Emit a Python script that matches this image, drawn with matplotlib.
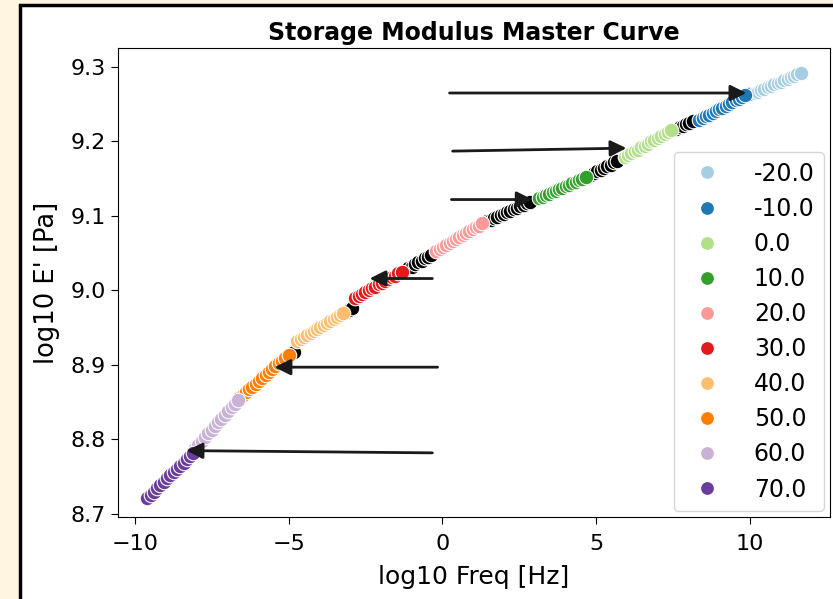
import matplotlib
matplotlib.use("Agg")
import matplotlib.pyplot as plt
from matplotlib.patches import Rectangle
from matplotlib.lines import Line2D

# measured sweep (log10 freq offset within one temperature)
sweep = [-0.75, -0.64, -0.54, -0.43, -0.32, -0.21, -0.11, 0.0,
         0.11, 0.21, 0.32, 0.43, 0.54, 0.64, 0.75]

temperatures = [-20.0, -10.0, 0.0, 10.0, 20.0, 30.0, 40.0, 50.0, 60.0, 70.0]

# horizontal shift (log10 aT) of each temperature
log_shift = [10.9, 9.1, 6.68, 3.9, 0.55, -2.08, -3.97, -5.75, -7.4, -8.85]

# log10 E' for each temperature, one row per temperature
log_storage = [
    [9.265, 9.267, 9.269, 9.271, 9.273, 9.275, 9.277, 9.279, 9.280, 9.282, 9.284, 9.286, 9.288, 9.290, 9.292],
    [9.229, 9.231, 9.234, 9.236, 9.238, 9.241, 9.243, 9.245, 9.248, 9.250, 9.253, 9.255, 9.257, 9.260, 9.262],
    [9.179, 9.182, 9.184, 9.187, 9.189, 9.192, 9.194, 9.197, 9.200, 9.202, 9.205, 9.207, 9.210, 9.212, 9.215],
    [9.124, 9.126, 9.128, 9.130, 9.132, 9.134, 9.136, 9.138, 9.140, 9.142, 9.144, 9.146, 9.148, 9.150, 9.152],
    [9.053, 9.056, 9.058, 9.061, 9.064, 9.066, 9.069, 9.072, 9.074, 9.077, 9.080, 9.082, 9.085, 9.087, 9.090],
    [8.990, 8.993, 8.995, 8.998, 9.000, 9.003, 9.005, 9.008, 9.010, 9.013, 9.015, 9.018, 9.020, 9.023, 9.025],
    [8.932, 8.935, 8.937, 8.940, 8.943, 8.946, 8.948, 8.951, 8.954, 8.956, 8.959, 8.962, 8.964, 8.967, 8.970],
    [8.860, 8.864, 8.868, 8.871, 8.875, 8.879, 8.883, 8.887, 8.890, 8.894, 8.898, 8.902, 8.905, 8.909, 8.913],
    [8.783, 8.788, 8.793, 8.798, 8.803, 8.808, 8.813, 8.818, 8.823, 8.828, 8.833, 8.838, 8.843, 8.848, 8.853],
    [8.722, 8.726, 8.730, 8.735, 8.739, 8.743, 8.748, 8.752, 8.756, 8.761, 8.765, 8.769, 8.774, 8.778, 8.782],
]

# points drawn in black between the coloured sweeps
black_x = [-6.62, -4.92, -4.82, -3.15, -3.05, -2.95,
           -1.22, -1.11, -1.0, -0.9, -0.79, -0.68, -0.58, -0.47, -0.36,
           1.35, 1.46, 1.57, 1.67, 1.78, 1.89, 2.0, 2.1, 2.21, 2.32, 2.42, 2.53, 2.64, 2.75, 2.85,
           4.72, 4.83, 4.93, 5.04, 5.15, 5.25, 5.36, 5.47, 5.58, 5.68,
           7.5, 7.6, 7.71, 7.82, 7.92, 8.03, 8.14, 9.95]
black_y = [8.856, 8.915, 8.918, 8.971, 8.974, 8.977,
           9.027, 9.030, 9.032, 9.035, 9.038, 9.040, 9.043, 9.045, 9.048,
           9.091, 9.093, 9.095, 9.097, 9.099, 9.101, 9.103, 9.105, 9.107, 9.109, 9.111, 9.113, 9.115, 9.117, 9.119,
           9.152, 9.155, 9.157, 9.160, 9.162, 9.164, 9.167, 9.169, 9.172, 9.174,
           9.215, 9.217, 9.219, 9.221, 9.223, 9.225, 9.227, 9.263]

# arrows: (start x, start y, tip x, tip y)
arrows = [
    (0.23, 9.265, 9.88, 9.265),
    (0.33, 9.187, 5.98, 9.191),
    (0.29, 9.122, 2.93, 9.122),
    (-0.33, 9.016, -2.37, 9.016),
    (-0.16, 8.897, -5.46, 8.897),
    (-0.33, 8.782, -8.32, 8.785),
]

palette = ['#a6cee3', '#1f78b4', '#b2df8a', '#33a02c', '#fb9a99',
           '#e31a1c', '#fdbf6f', '#ff7f00', '#cab2d6', '#6a3d9a']

fig = plt.figure(figsize=(8.33, 5.99), dpi=100, facecolor='#fff5e0')
# white page with black frame, as in the screenshot
fig.add_artist(Rectangle((0.024, -0.1), 1.2, 1.0917, transform=fig.transFigure,
                         facecolor='white', edgecolor='black', lw=2.5, zorder=-1))

ax = fig.add_axes([0.1417, 0.137, 0.8547, 0.783])

ax.scatter(black_x, black_y, s=110, c='black', edgecolors='white', linewidths=0.8, zorder=2)
for i, t in enumerate(temperatures):
    xs = [f + log_shift[i] for f in sweep]
    ax.scatter(xs, log_storage[i], s=110, color=palette[i], edgecolors='white',
               linewidths=0.8, zorder=3)

for x0, y0, x1, y1 in arrows:
    ax.annotate('', xy=(x1, y1), xytext=(x0, y0),
                arrowprops=dict(arrowstyle='-|>', color='#1a1a1a', lw=2,
                                mutation_scale=24, shrinkA=0, shrinkB=0),
                zorder=5)

ax.set_xlim(-10.55, 12.6)
ax.set_ylim(8.696, 9.3255)
ax.set_xticks([-10, -5, 0, 5, 10])
ax.set_yticks([8.7, 8.8, 8.9, 9.0, 9.1, 9.2, 9.3])
ax.tick_params(labelsize=16, length=5)
ax.tick_params(axis='x', pad=7)
ax.set_xlabel('log10 Freq [Hz]', fontsize=18, labelpad=8)
ax.set_ylabel("log10 E' [Pa]", fontsize=18.5, labelpad=8)
ax.set_title('Storage Modulus Master Curve', fontsize=17, fontweight='bold', pad=6)

handles = [Line2D([], [], marker='o', ls='', markersize=10, color=c,
                  markeredgecolor='white', markeredgewidth=0.8) for c in palette]
labels = [str(t) for t in temperatures]
ax.legend(handles, labels, loc='lower right', fontsize=17, labelspacing=0.47,
          borderaxespad=0.25, handletextpad=1.0, framealpha=0.8)

fig.savefig('out.png', dpi=100, facecolor=fig.get_facecolor())
